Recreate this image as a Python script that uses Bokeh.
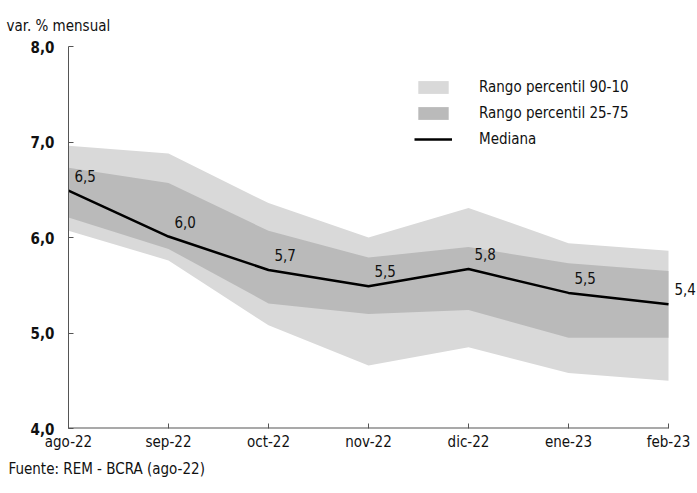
from bokeh.plotting import figure
from bokeh.models import (ColumnDataSource, Range1d, FixedTicker, LabelSet, Title,
                          Legend, LegendItem)
from bokeh.core.properties import value
from bokeh.embed import file_html
from bokeh.resources import INLINE

FONT = "DejaVu Sans Condensed, Roboto, sans-serif"

months = ["ago-22", "sep-22", "oct-22", "nov-22", "dic-22", "ene-23", "feb-23"]
median = [6.49, 6.01, 5.66, 5.49, 5.67, 5.42, 5.30]
median_labels = ["6,5", "6,0", "5,7", "5,5", "5,8", "5,5", "5,4"]
p10 = [6.07, 5.76, 5.08, 4.66, 4.85, 4.58, 4.50]
p90 = [6.96, 6.88, 6.36, 6.00, 6.31, 5.94, 5.86]
p25 = [6.21, 5.88, 5.31, 5.20, 5.24, 4.95, 4.95]
p75 = [6.73, 6.57, 6.07, 5.79, 5.90, 5.73, 5.65]
y_ticks = [4, 5, 6, 7, 8]
y_tick_labels = ["4,0", "5,0", "6,0", "7,0", "8,0"]

xs = list(range(len(months)))
src = ColumnDataSource(dict(x=xs, med=median, lab=median_labels,
                            p10=p10, p90=p90, p25=p25, p75=p75))

p = figure(width=697, height=487, output_backend="svg", toolbar_location=None,
           x_range=Range1d(0, 6.29), y_range=Range1d(4, 8),
           min_border_left=68, min_border_right=0, min_border_top=46,
           min_border_bottom=59)
p.outline_line_color = None
p.grid.grid_line_color = None
p.background_fill_color = "white"

outer = p.varea(x="x", y1="p10", y2="p90", source=src, fill_color="#d9d9d9")
inner = p.varea(x="x", y1="p25", y2="p75", source=src, fill_color="#bababa")
med = p.line(x="x", y="med", source=src, line_color="black", line_width=2.5)

# x axis line only up to the last month
p.segment(x0=[0], y0=[4], x1=[len(months) - 1], y1=[4], line_color="#555555",
          line_width=2)

labels = LabelSet(x="x", y="med", text="lab", source=src, x_offset=6, y_offset=9,
                  text_align="left", text_baseline="bottom",
                  text_font_size=value("15px"), text_font=value(FONT),
                  text_color="#111111")
p.add_layout(labels)

p.xaxis.ticker = FixedTicker(ticks=xs)
p.xaxis.major_label_overrides = {i: m for i, m in zip(xs, months)}
p.yaxis.ticker = FixedTicker(ticks=y_ticks)
p.yaxis.major_label_overrides = {t: l for t, l in zip(y_ticks, y_tick_labels)}
for ax in (p.xaxis[0], p.yaxis[0]):
    ax.axis_line_color = "#555555"
    ax.axis_line_width = 1
    ax.major_tick_in = 5
    ax.major_tick_out = 0
    ax.major_tick_line_color = "#555555"
    ax.minor_tick_line_color = None
    ax.major_label_text_font = FONT
    ax.major_label_text_font_size = "15px"
    ax.major_label_text_color = "#111111"
p.xaxis.axis_line_color = None
p.xaxis.major_label_standoff = 4
p.yaxis.major_label_standoff = 14
p.yaxis.major_label_text_font_style = "bold"

legend = Legend(items=[LegendItem(label="Rango percentil 90-10", renderers=[outer]),
                       LegendItem(label="Rango percentil 25-75", renderers=[inner]),
                       LegendItem(label="Mediana", renderers=[med])],
                location=(346, 280), padding=4, spacing=8, glyph_width=38,
                glyph_height=16, label_height=16, label_standoff=27,
                label_text_font=FONT, label_text_font_size="15px",
                label_text_color="#111111", border_line_color=None,
                background_fill_alpha=0)
p.add_layout(legend)

p.add_layout(Title(text="var. % mensual", align="left", offset=-62,
                   text_font=FONT, text_font_size="15px", text_font_style="normal",
                   text_color="#111111", standoff=24), "above")
p.add_layout(Title(text="Fuente: REM - BCRA (ago-22)", align="left", offset=-60,
                   text_font=FONT, text_font_size="15px", text_font_style="normal",
                   text_color="#111111", standoff=8), "below")

open("out.html", "w").write(file_html(p, INLINE))
